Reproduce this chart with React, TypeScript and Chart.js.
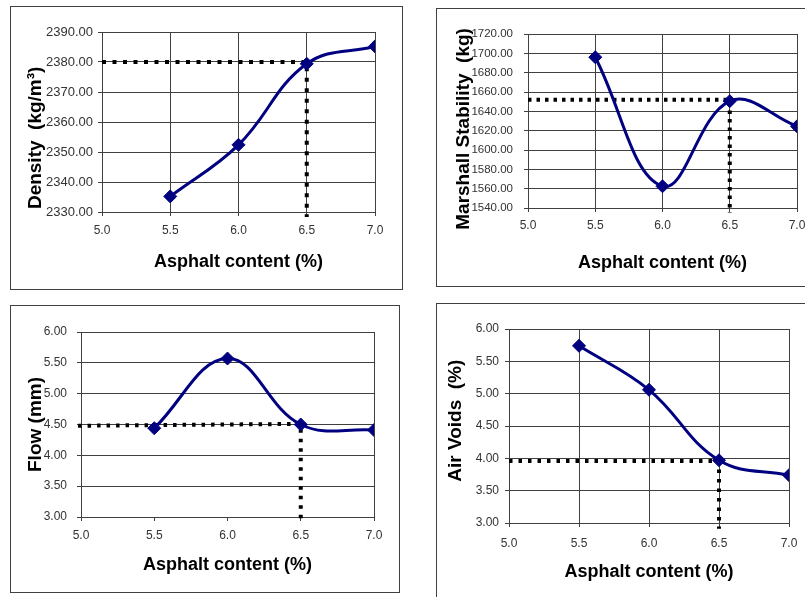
import React, { useEffect, useRef } from "react";
import { Chart, registerables } from "chart.js";

Chart.register(...registerables);

// ---- data ----
const asphaltContent = [5.5, 6.0, 6.5, 7.0];
const xAxisRange = [5.0, 7.0, 0.5];
const xTitle = "Asphalt content (%)";

const densityValues = [2335.2, 2352.4, 2379.4, 2385.2];
const densityAxis = [2330, 2390, 10];
const densityRefX = [5.0, 6.5, 6.5];
const densityRefY = [2380, 2380, 2328.3];

const stabilityValues = [1696, 1562.5, 1650.5, 1624.5];
const stabilityAxis = [1540, 1720, 20];
const stabilityRefX = [5.0, 6.5, 6.5];
const stabilityRefY = [1652, 1652, 1534.8];

const flowValues = [4.44, 5.57, 4.5, 4.41];
const flowAxis = [3.0, 6.0, 0.5];
const flowRefX = [4.98, 6.5, 6.5];
const flowRefY = [4.48, 4.51, 2.93];

const airVoidValues = [5.74, 5.06, 3.97, 3.74];
const airVoidAxis = [3.0, 6.0, 0.5];
const airVoidRefX = [5.0, 6.5, 6.5];
const airVoidRefY = [3.96, 3.96, 2.91];

// ---- styles ----
const NAVY = "#000080";
const GRID = "#404040";
const FONT = "'Liberation Sans', Arial, sans-serif";

type Spec = {
  box: { left: number; top: number; width: number; height: number };
  W: number;
  T: number;
  R: number;
  H: number;
  yTitle: string;
  values: number[];
  refX: number[];
  refY: number[];
  yAxis: number[];
  allXGrid: boolean;
  yTickPad: number;
  xTickPad: number;
  xTitlePad: number;
  yTitlePad: number;
  xFont: number;
  yFont: number;
  dash: number[];
};

const panels: Spec[] = [
  {
    box: { left: 10, top: 6, width: 393, height: 284 },
    W: 91, T: 25, R: 27, H: 77,
    yTitle: "Density  (kg/m\u00b3)      ",
    values: densityValues, refX: densityRefX, refY: densityRefY, yAxis: densityAxis,
    allXGrid: true, yTickPad: 5, xTickPad: 7, xTitlePad: 16, yTitlePad: 13,
    xFont: 12, yFont: 13, dash: [4, 6.5],
  },
  {
    box: { left: 436, top: 8, width: 420, height: 279 },
    W: 91, T: 25, R: 58, H: 78,
    yTitle: "Marshall Stability  (kg)   ",
    values: stabilityValues, refX: stabilityRefX, refY: stabilityRefY, yAxis: stabilityAxis,
    allXGrid: true, yTickPad: 11, xTickPad: 6, xTitlePad: 12, yTitlePad: 15,
    xFont: 12, yFont: 11.5, dash: [3.5, 5],
  },
  {
    box: { left: 10, top: 305, width: 390, height: 288 },
    W: 70, T: 26, R: 25, H: 75,
    yTitle: "Flow (mm)",
    values: flowValues, refX: flowRefX, refY: flowRefY, yAxis: flowAxis,
    allXGrid: false, yTickPad: 10, xTickPad: 7, xTitlePad: 16, yTitlePad: 13,
    xFont: 12, yFont: 12, dash: [3.5, 6],
  },
  {
    box: { left: 436, top: 303, width: 420, height: 300 },
    W: 72, T: 25, R: 66, H: 79,
    yTitle: "  Air Voids  (%)",
    values: airVoidValues, refX: airVoidRefX, refY: airVoidRefY, yAxis: airVoidAxis,
    allXGrid: true, yTickPad: 6, xTickPad: 9, xTitlePad: 19, yTitlePad: 7,
    xFont: 12, yFont: 12, dash: [3.5, 6],
  },
];

function Panel({ spec }: { spec: Spec }) {
  const ref = useRef<HTMLCanvasElement | null>(null);
  const cw = spec.box.width - 2;
  const ch = spec.box.height - 2;

  useEffect(() => {
    const canvas = ref.current;
    if (!canvas) return;
    const chart = new Chart(canvas, {
      type: "line",
      data: {
        datasets: [
          {
            data: asphaltContent.map((x, i) => ({ x, y: spec.values[i] })),
            borderColor: NAVY,
            backgroundColor: NAVY,
            borderWidth: 3,
            tension: 0.4,
            pointStyle: "rectRot",
            pointRadius: 6.5,
            pointBackgroundColor: NAVY,
            pointBorderColor: NAVY,
            pointBorderWidth: 1,
          },
          {
            data: spec.refX.map((x, i) => ({ x, y: spec.refY[i] })),
            borderColor: "#000000",
            borderWidth: 4,
            borderDash: spec.dash,
            pointRadius: 0,
            tension: 0,
            clip: false,
          } as any,
        ],
      },
      options: {
        responsive: false,
        animation: false,
        devicePixelRatio: 1,
        layout: { padding: { left: 0, top: spec.T, right: spec.R, bottom: 0 } },
        plugins: { legend: { display: false }, tooltip: { enabled: false } },
        scales: {
          x: {
            type: "linear",
            min: xAxisRange[0],
            max: xAxisRange[1],
            afterFit: (s: any) => {
              s.height = spec.H;
            },
            ticks: {
              stepSize: xAxisRange[2],
              autoSkip: false,
              maxRotation: 0,
              padding: spec.xTickPad,
              color: "#333333",
              font: { family: FONT, size: spec.xFont },
              callback: (v: any) => Number(v).toFixed(1),
            },
            grid: {
              color: (c: any) =>
                spec.allXGrid || (c.tick && c.tick.value === xAxisRange[1]) ? GRID : "rgba(0,0,0,0)",
              tickColor: GRID,
              tickLength: 4,
              lineWidth: 1,
            },
            border: { color: GRID },
            title: {
              display: true,
              text: xTitle,
              color: "#000000",
              font: { family: FONT, size: 18, weight: "bold" },
              padding: { top: 0, bottom: spec.xTitlePad },
            },
          },
          y: {
            type: "linear",
            min: spec.yAxis[0],
            max: spec.yAxis[1],
            afterFit: (s: any) => {
              s.width = spec.W;
            },
            ticks: {
              stepSize: spec.yAxis[2],
              autoSkip: false,
              padding: spec.yTickPad,
              color: "#333333",
              font: { family: FONT, size: spec.yFont },
              callback: (v: any) => Number(v).toFixed(2),
            },
            grid: { color: GRID, tickColor: GRID, tickLength: 4, lineWidth: 1 },
            border: { color: GRID },
            title: {
              display: true,
              text: spec.yTitle,
              color: "#000000",
              font: { family: FONT, size: 19, weight: "bold" },
              padding: { top: spec.yTitlePad, bottom: 0 },
            },
          },
        },
      },
    } as any);
    return () => chart.destroy();
  }, [spec]);

  return (
    <div
      style={{
        position: "absolute",
        left: spec.box.left,
        top: spec.box.top,
        width: spec.box.width,
        height: spec.box.height,
        border: "1px solid #404040",
        boxSizing: "border-box",
        background: "#ffffff",
      }}
    >
      <canvas
        ref={ref}
        width={cw}
        height={ch}
        style={{ position: "absolute", left: 0, top: 0, width: cw, height: ch, display: "block" }}
      />
    </div>
  );
}

export default function App() {
  return (
    <div
      style={{
        position: "absolute",
        left: 0,
        top: 0,
        width: 805,
        height: 597,
        overflow: "hidden",
        background: "#ffffff",
      }}
    >
      {panels.map((p, i) => (
        <Panel key={i} spec={p} />
      ))}
    </div>
  );
}
